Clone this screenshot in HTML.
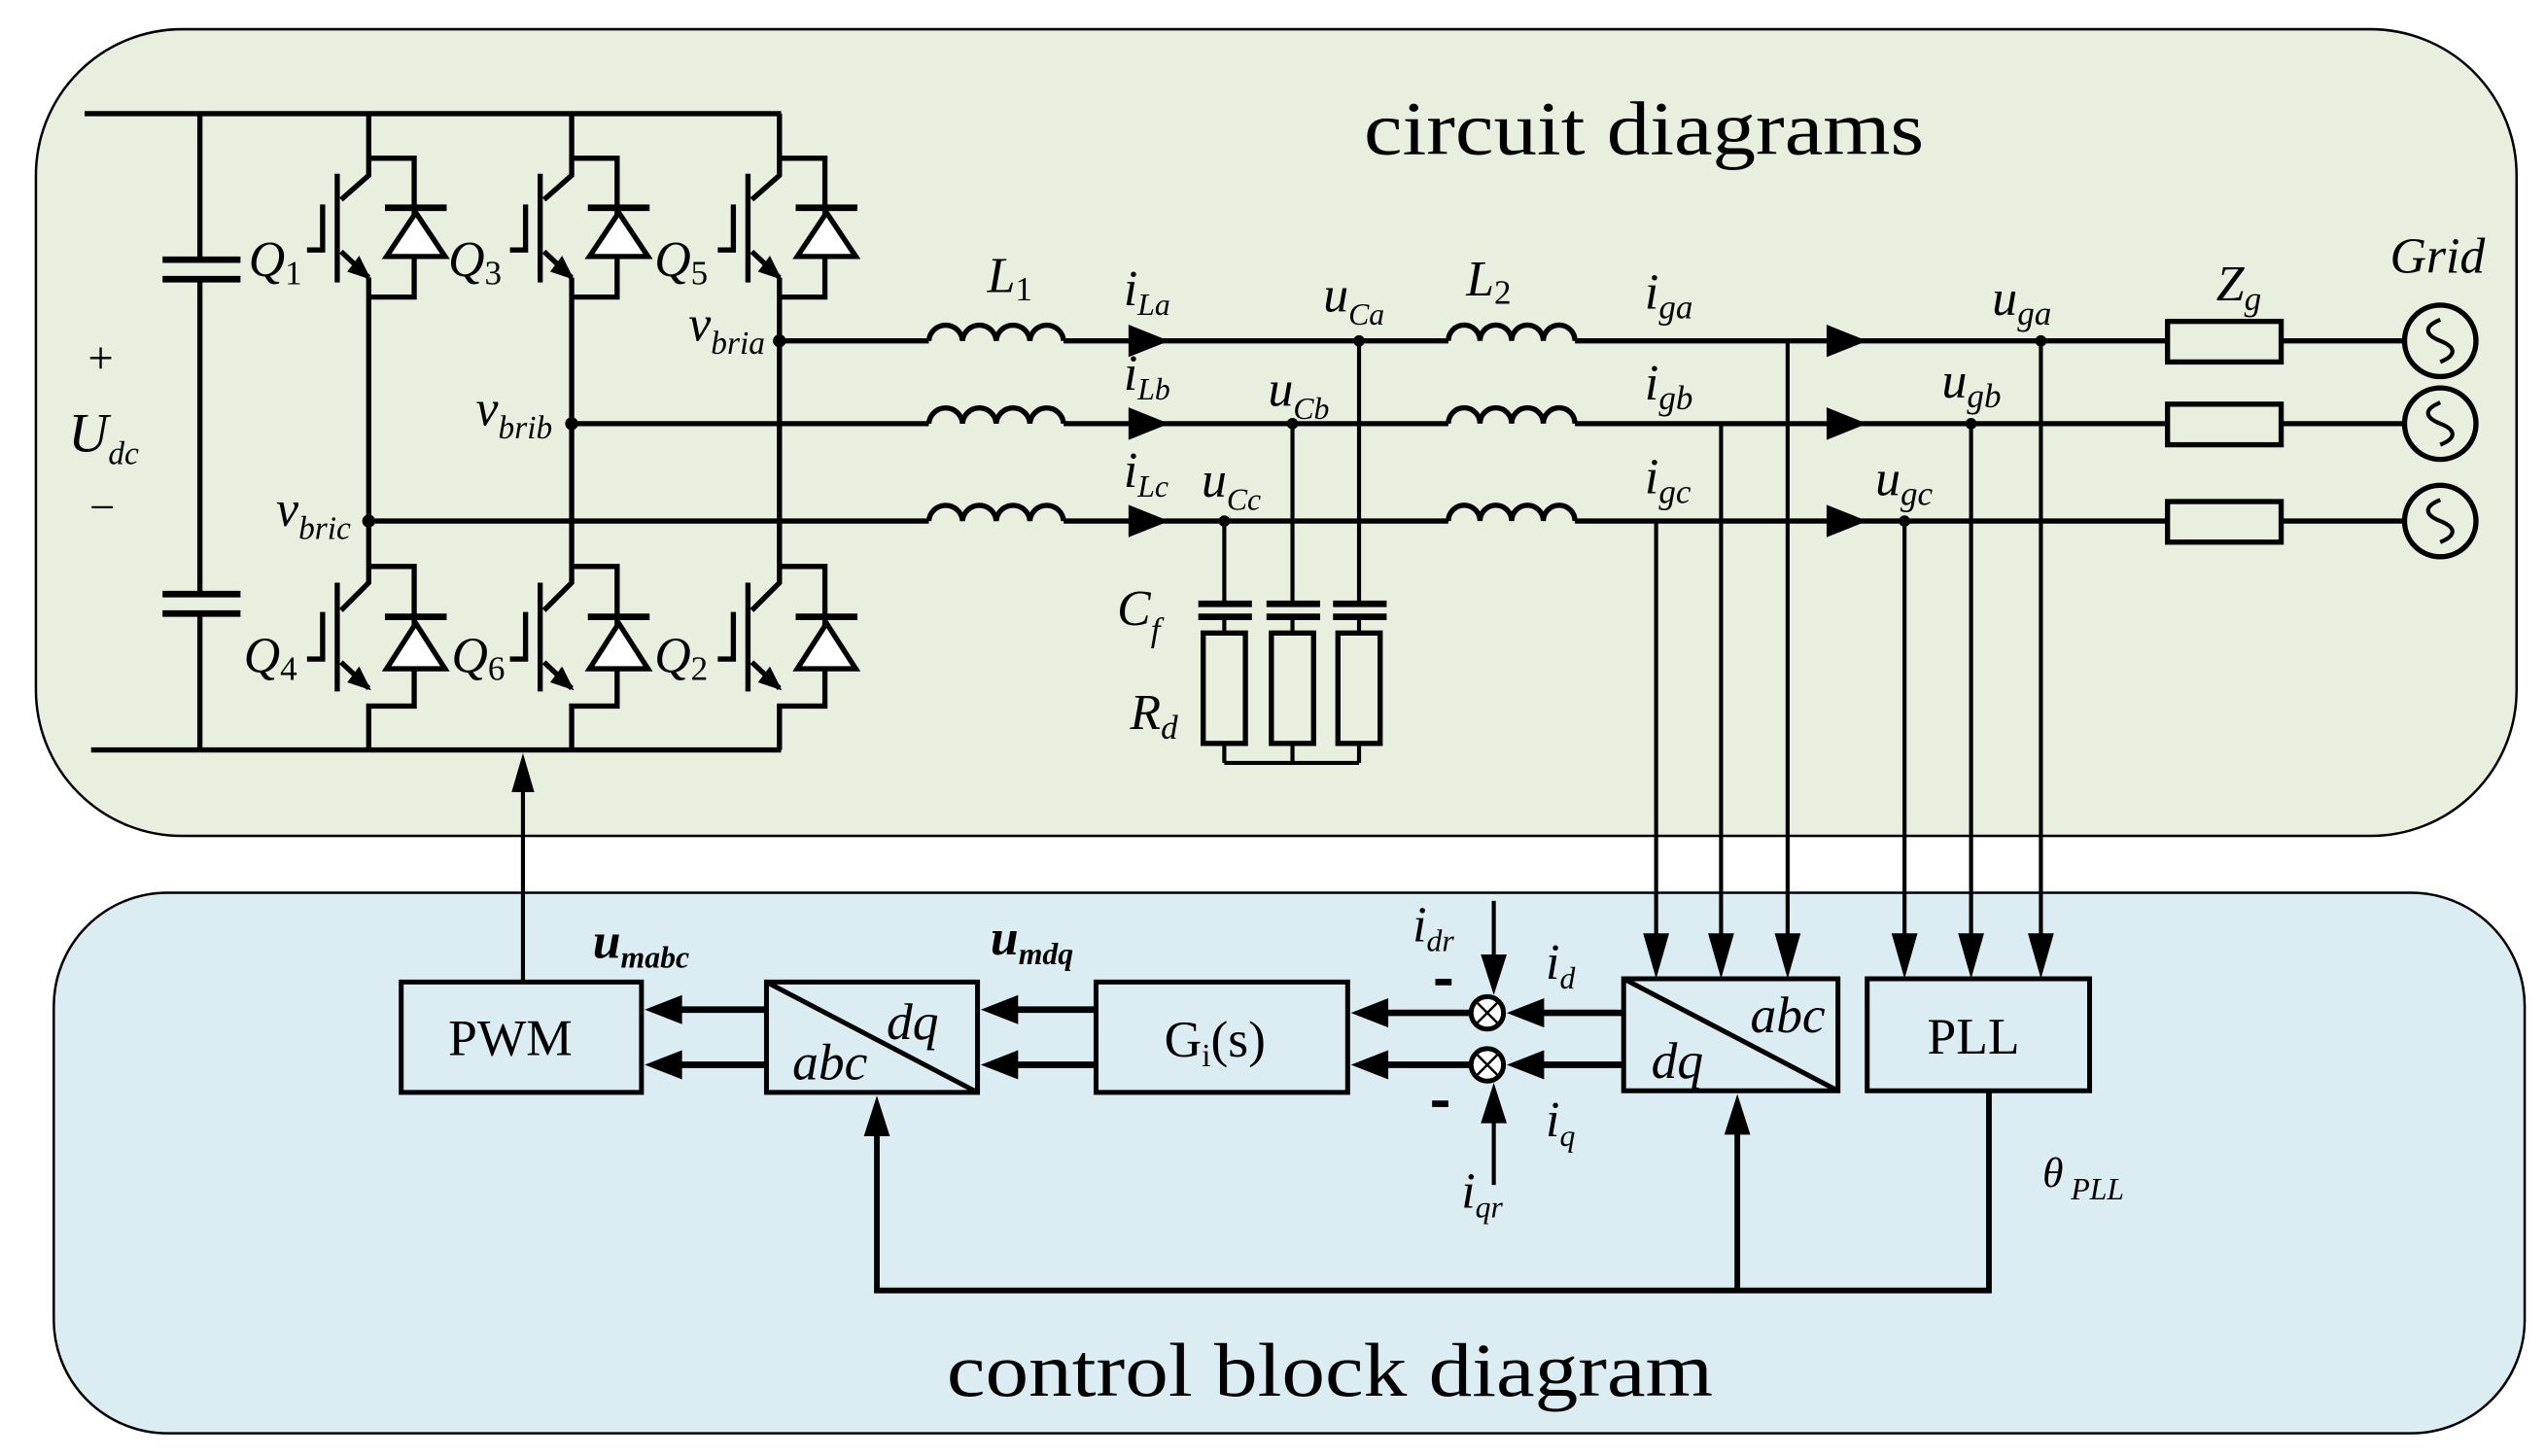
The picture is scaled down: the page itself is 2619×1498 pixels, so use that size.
<!DOCTYPE html>
<html><head><meta charset="utf-8"><style>
html,body{margin:0;padding:0;background:#fff}
svg{display:block}
text{font-family:"Liberation Serif",serif;fill:#000}
.i{font-style:italic}
</style></head><body>
<svg width="2619" height="1498" viewBox="0 0 1568 897" xmlns="http://www.w3.org/2000/svg">
<rect x="22" y="18" width="1528" height="497" rx="90" fill="#e9efdf" stroke="#000" stroke-width="1.5"/>
<rect x="33" y="550" width="1522" height="333" rx="70" fill="#dbedf3" stroke="#000" stroke-width="1.5"/>

<g stroke="#000" stroke-width="3.2" fill="none">
<line x1="52" y1="70" x2="481" y2="70"/>
<line x1="56" y1="462" x2="481" y2="462"/>
<path d="M123,70 V160 M123,172 V366 M123,378 V462"/>
<path d="M100,160 H148 M100,172 H148 M100,366 H148 M100,378 H148" stroke-width="4"/>
<path d="M480,210 H572 M655,210 H892 M970,210 H1335 M1405,210 H1481"/>
<path d="M352,261 H572 M655,261 H892 M970,261 H1335 M1405,261 H1481"/>
<path d="M227,321 H572 M655,321 H892 M970,321 H1335 M1405,321 H1481"/>
<path d="M572,210 a10.4,10.4 0 0 1 20.75,0 a10.4,10.4 0 0 1 20.75,0 a10.4,10.4 0 0 1 20.75,0 a10.4,10.4 0 0 1 20.75,0"/>
<path d="M572,261 a10.4,10.4 0 0 1 20.75,0 a10.4,10.4 0 0 1 20.75,0 a10.4,10.4 0 0 1 20.75,0 a10.4,10.4 0 0 1 20.75,0"/>
<path d="M572,321 a10.4,10.4 0 0 1 20.75,0 a10.4,10.4 0 0 1 20.75,0 a10.4,10.4 0 0 1 20.75,0 a10.4,10.4 0 0 1 20.75,0"/>
<path d="M892,210 a9.75,9.75 0 0 1 19.5,0 a9.75,9.75 0 0 1 19.5,0 a9.75,9.75 0 0 1 19.5,0 a9.75,9.75 0 0 1 19.5,0"/>
<path d="M892,261 a9.75,9.75 0 0 1 19.5,0 a9.75,9.75 0 0 1 19.5,0 a9.75,9.75 0 0 1 19.5,0 a9.75,9.75 0 0 1 19.5,0"/>
<path d="M892,321 a9.75,9.75 0 0 1 19.5,0 a9.75,9.75 0 0 1 19.5,0 a9.75,9.75 0 0 1 19.5,0 a9.75,9.75 0 0 1 19.5,0"/>
<rect x="1335" y="198" width="70" height="25"/>
<rect x="1335" y="249" width="70" height="25"/>
<rect x="1335" y="309" width="70" height="25"/>
<circle cx="1503" cy="210" r="22"/><circle cx="1503" cy="261" r="22"/><circle cx="1503" cy="321" r="22"/>
<path d="M1503,197 c-10,4 -10,9 0,13 s10,9 0,13 M1503,248 c-10,4 -10,9 0,13 s10,9 0,13 M1503,308 c-10,4 -10,9 0,13 s10,9 0,13" stroke-width="2.5"/>
<path d="M754,321 V372 M796,261 V372 M837,210 V372" stroke-width="2.5"/>
<path d="M738,372 H771 M738,380 H771 M780,372 H813 M780,380 H813 M821,372 H854 M821,380 H854" stroke-width="4"/>
<path d="M754,380 V390 M796,380 V390 M837,380 V390 M754,458 V470 M796,458 V470 M837,458 V470 M754,470 H837" stroke-width="2.5"/>
<rect x="741" y="390" width="26" height="68"/><rect x="783" y="390" width="26" height="68"/><rect x="824" y="390" width="26" height="68"/>
<path d="M1101,210 V580 M1060,261 V580 M1020,321 V580 M1257,210 V580 M1214,261 V580 M1173,321 V580" stroke-width="2.5"/>
</g>
<g fill="#000">
<path d="M695,200 L720,210 L695,220z M695,251 L720,261 L695,271z M695,311 L720,321 L695,331z"/>
<path d="M1125,200 L1150,210 L1125,220z M1125,251 L1150,261 L1125,271z M1125,311 L1150,321 L1125,331z"/>
<path d="M1012,575 L1028,575 L1020,603z M1052,575 L1068,575 L1060,603z M1093,575 L1109,575 L1101,603z M1165,575 L1181,575 L1173,603z M1206,575 L1222,575 L1214,603z M1249,575 L1265,575 L1257,603z"/>
<circle cx="480" cy="210" r="4"/><circle cx="352" cy="261" r="4"/><circle cx="227" cy="321" r="4"/>
<circle cx="837" cy="210" r="3.5"/><circle cx="796" cy="261" r="3.5"/><circle cx="754" cy="321" r="3.5"/>
<circle cx="1257" cy="210" r="3.5"/><circle cx="1214" cy="261" r="3.5"/><circle cx="1173" cy="321" r="3.5"/>
</g>

<g id="up" stroke="#000" stroke-width="3.2" fill="none">
<path d="M227,70 V108 L210,123 M207.6,107 V174 M198.6,126 V154 H189 M210,155 L227,171 M227,97.5 H255 V183 H227 M227,171 V183"/>
<path d="M237,128 H275" stroke-width="4"/>
<path d="M256,131 L274,158 L238,158 Z" fill="#fff"/>
<path d="M227,171 L215,167 L221,159 Z" fill="#000" stroke-width="1.5"/>
</g>
<use href="#up" x="125"/>
<use href="#up" x="253"/>
<g id="dn" stroke="#000" stroke-width="3.2" fill="none">
<path d="M227,349 V359 L210,376 M207.6,359 V426 M198.6,377 V406 H189 M210,408 L227,424 M227,349 H255 V435 H227 V462"/>
<path d="M237,380 H275" stroke-width="4"/>
<path d="M256,384 L274,412 L238,412 Z" fill="#fff"/>
<path d="M227,424 L215,420 L221,412 Z" fill="#000" stroke-width="1.5"/>
</g>
<use href="#dn" x="125"/>
<use href="#dn" x="253"/>
<g stroke="#000" stroke-width="3.2" fill="none">
<path d="M227,183 V349 M352,183 V349 M480,183 V349"/>
</g>

<g stroke="#000" stroke-width="3" fill="none">
<rect x="247" y="605" width="148" height="68"/>
<rect x="472" y="605" width="130" height="68"/>
<path d="M472,605 L602,673"/>
<rect x="675" y="605" width="155" height="68"/>
<rect x="1000" y="603" width="132" height="69"/>
<path d="M1000,603 L1132,672"/>
<rect x="1150" y="603" width="137" height="69"/>
<path d="M472,622 H415 M472,656 H415 M675,622 H622 M675,656 H622 M906,624 H850 M906,656 H850 M1000,624 H946 M1000,656 H946" stroke-width="4"/>
<path d="M920,555 V592 M920,730 V688" stroke-width="2.5"/>
<path d="M1225,672 V795 H540 V695 M1070,795 V694" stroke-width="3.5"/>
<path d="M322,605 V485" stroke-width="2.5"/>
<circle cx="916" cy="624" r="10" fill="#fff"/><circle cx="916" cy="656" r="10" fill="#fff"/>
<path d="M909,617 L923,631 M923,617 L909,631 M909,649 L923,663 M923,649 L909,663" stroke-width="1.5"/>
<path d="M884,605 H894 M882,680 H892" stroke-width="4"/>
</g>
<g fill="#000">
<path d="M397,622 L420,613 L420,631z M397,656 L420,647 L420,665z M604,622 L627,613 L627,631z M604,656 L627,647 L627,665z M832,624 L855,615 L855,633z M832,656 L855,647 L855,665z M928,624 L951,615 L951,633z M928,656 L951,647 L951,665z"/>
<path d="M920,613 L912,588 L928,588z M920,667 L912,692 L928,692z"/>
<path d="M540,675 L532,700 L548,700z M1070,674 L1062,699 L1078,699z M322,464 L315,488 L329,488z"/>
</g>

<text x="840" y="95" font-size="47" textLength="345" lengthAdjust="spacingAndGlyphs">circuit diagrams</text>
<text x="583" y="860" font-size="47" textLength="472" lengthAdjust="spacingAndGlyphs">control block diagram</text>
<text x="276" y="650" font-size="32">PWM</text>
<text x="717" y="651" font-size="32">G<tspan font-size="20" dy="6">i</tspan><tspan dy="-6">(s)</tspan></text>
<text x="1187" y="649" font-size="32">PLL</text>
<text class="i" x="546" y="640" font-size="32">dq</text>
<text class="i" x="488" y="665" font-size="32">abc</text>
<text class="i" x="1078" y="636" font-size="32">abc</text>
<text class="i" x="1017" y="664" font-size="32">dq</text>

<g class="i" font-size="31">
<text class="i" x="153" y="170">Q<tspan font-size="21" dy="5" font-style="normal">1</tspan></text>
<text class="i" x="276" y="170">Q<tspan font-size="21" dy="5" font-style="normal">3</tspan></text>
<text class="i" x="403" y="170">Q<tspan font-size="21" dy="5" font-style="normal">5</tspan></text>
<text class="i" x="150" y="414">Q<tspan font-size="21" dy="5" font-style="normal">4</tspan></text>
<text class="i" x="278" y="414">Q<tspan font-size="21" dy="5" font-style="normal">6</tspan></text>
<text class="i" x="403" y="414">Q<tspan font-size="21" dy="5" font-style="normal">2</tspan></text>
<text x="54" y="230" font-size="28" font-style="normal">+</text>
<text class="i" x="42" y="278" font-size="34">U<tspan font-size="20" dy="8">dc</tspan></text>
<text x="55" y="322" font-size="28" font-style="normal">−</text>
<text class="i" x="424" y="210">v<tspan font-size="20" dy="8">bria</tspan></text>
<text class="i" x="293" y="262">v<tspan font-size="20" dy="8">brib</tspan></text>
<text class="i" x="170" y="324">v<tspan font-size="20" dy="8">bric</tspan></text>
<text class="i" x="608" y="180">L<tspan font-size="21" dy="5" font-style="normal">1</tspan></text>
<text class="i" x="903" y="182">L<tspan font-size="21" dy="5" font-style="normal">2</tspan></text>
<text class="i" x="692" y="188">i<tspan font-size="19" dy="6">La</tspan></text>
<text class="i" x="692" y="240">i<tspan font-size="19" dy="6">Lb</tspan></text>
<text class="i" x="692" y="300">i<tspan font-size="19" dy="6">Lc</tspan></text>
<text class="i" x="815" y="192">u<tspan font-size="19" dy="8">Ca</tspan></text>
<text class="i" x="781" y="250">u<tspan font-size="19" dy="8">Cb</tspan></text>
<text class="i" x="740" y="306">u<tspan font-size="19" dy="8">Cc</tspan></text>
<text class="i" x="1013" y="190">i<tspan font-size="21" dy="6">ga</tspan></text>
<text class="i" x="1013" y="246">i<tspan font-size="21" dy="6">gb</tspan></text>
<text class="i" x="1013" y="304">i<tspan font-size="21" dy="6">gc</tspan></text>
<text class="i" x="1227" y="194">u<tspan font-size="21" dy="6">ga</tspan></text>
<text class="i" x="1196" y="245">u<tspan font-size="21" dy="6">gb</tspan></text>
<text class="i" x="1155" y="305">u<tspan font-size="21" dy="6">gc</tspan></text>
<text class="i" x="1365" y="185">Z<tspan font-size="21" dy="6">g</tspan></text>
<text class="i" x="1472" y="168">Grid</text>
<text class="i" x="688" y="385">C<tspan font-size="21" dy="10">f</tspan></text>
<text class="i" x="696" y="449">R<tspan font-size="21" dy="6">d</tspan></text>
<text class="i" x="365" y="590" font-weight="bold">u<tspan font-size="19" dy="6">mabc</tspan></text>
<text class="i" x="610" y="588" font-weight="bold">u<tspan font-size="19" dy="6">mdq</tspan></text>
<text class="i" x="870" y="580">i<tspan font-size="19" dy="6">dr</tspan></text>
<text class="i" x="952" y="603">i<tspan font-size="19" dy="6">d</tspan></text>
<text class="i" x="952" y="700">i<tspan font-size="19" dy="6">q</tspan></text>
<text class="i" x="900" y="744">i<tspan font-size="19" dy="6">qr</tspan></text>
<text class="i" x="1258" y="731" font-size="26">θ<tspan font-size="19" dy="8"> PLL</tspan></text>
</g>
</svg>
</body></html>
